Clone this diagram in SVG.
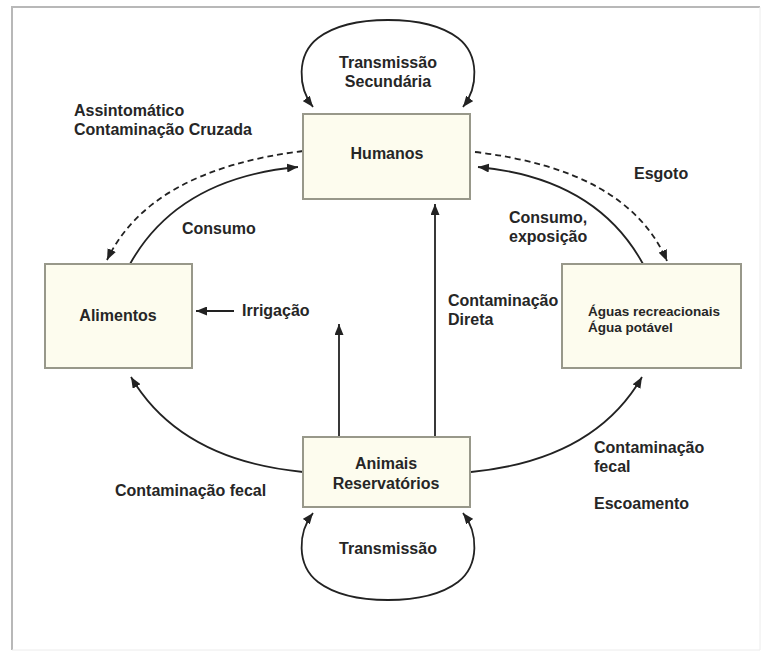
<svg xmlns="http://www.w3.org/2000/svg" width="770" height="660" viewBox="0 0 770 660">
<style>
.box{fill:#fdfcee;stroke:#98988a;stroke-width:2}
.t{font-family:"Liberation Sans",Arial,sans-serif;font-weight:bold;font-size:16px;fill:#262626}
.s{font-size:13.5px}
.m{text-anchor:middle}
.c{fill:none;stroke:#222;stroke-width:1.8}
.d{stroke-dasharray:6,4}
</style>
<defs>
<marker id="ah" viewBox="0 0 11 9" refX="11" refY="4.5" markerWidth="11" markerHeight="9" markerUnits="userSpaceOnUse" orient="auto-start-reverse">
<path d="M0,0 L11,4.5 L0,9 z" fill="#222"/>
</marker>
</defs>
<rect width="770" height="660" fill="#fff"/>
<path d="M12,650 L12,7 L760,7" fill="none" stroke="#b8b8b8" stroke-width="2"/>
<path d="M760,7 L760,650 L12,650" fill="none" stroke="#ececec" stroke-width="1"/>

<g id="connectors">
<path class="c" d="M313,107 C298,88 296,55 318,38 C338,23 365,20 388,20 C411,20 438,23 458,38 C480,55 478,88 463,107" marker-start="url(#ah)" marker-end="url(#ah)"/>
<path class="c" d="M313,513 C298,532 296,565 318,582 C338,597 365,600 388,600 C411,600 438,597 458,582 C480,565 478,532 463,513" marker-start="url(#ah)" marker-end="url(#ah)"/>
<path class="c d" d="M303,151 Q150,170 107,260" marker-end="url(#ah)"/>
<path class="c" d="M130,264 Q178,178 298,167" marker-end="url(#ah)"/>
<path class="c d" d="M475,152 Q628,170 667,261" marker-end="url(#ah)"/>
<path class="c" d="M643,264 Q596,178 478,167" marker-end="url(#ah)"/>
<path class="c" d="M303,472 Q180,460 131,377" marker-end="url(#ah)"/>
<path class="c" d="M471,472 Q594,460 642,377" marker-end="url(#ah)"/>
<path class="c" d="M234,311 L196,311" marker-end="url(#ah)"/>
<path class="c" d="M339,437 L339,324" marker-end="url(#ah)"/>
<path class="c" d="M435,437 L435,204" marker-end="url(#ah)"/>
</g>

<g id="humanos">
<rect class="box" x="303" y="114" width="167" height="85"/>
<text class="t m" x="387" y="158.5">Humanos</text>
</g>
<g id="alimentos">
<rect class="box" x="45" y="264" width="147" height="104"/>
<text class="t m" x="118" y="321">Alimentos</text>
</g>
<g id="aguas">
<rect class="box" x="562" y="264" width="179" height="104"/>
<text class="t s" x="588" y="316">Águas recreacionais</text>
<text class="t s" x="588" y="332">Água potável</text>
</g>
<g id="animais">
<rect class="box" x="303" y="437" width="167" height="70"/>
<text class="t m" x="386" y="469">Animais</text>
<text class="t m" x="386" y="488.5">Reservatórios</text>
</g>

<g id="labels">
<text class="t m" x="388" y="68">Transmissão</text>
<text class="t m" x="388" y="86.5">Secundária</text>
<text class="t" x="74" y="116">Assintomático</text>
<text class="t" x="74" y="135">Contaminação Cruzada</text>
<text class="t" x="634" y="178.5">Esgoto</text>
<text class="t" x="182" y="234">Consumo</text>
<text class="t" x="509" y="222.5">Consumo,</text>
<text class="t" x="509" y="241.5">exposição</text>
<text class="t" x="242" y="316">Irrigação</text>
<text class="t" x="448" y="306">Contaminação</text>
<text class="t" x="448" y="324.5">Direta</text>
<text class="t" x="115" y="496">Contaminação fecal</text>
<text class="t" x="594" y="453">Contaminação</text>
<text class="t" x="594" y="472">fecal</text>
<text class="t" x="594" y="509">Escoamento</text>
<text class="t m" x="388" y="554">Transmissão</text>
</g>
</svg>
